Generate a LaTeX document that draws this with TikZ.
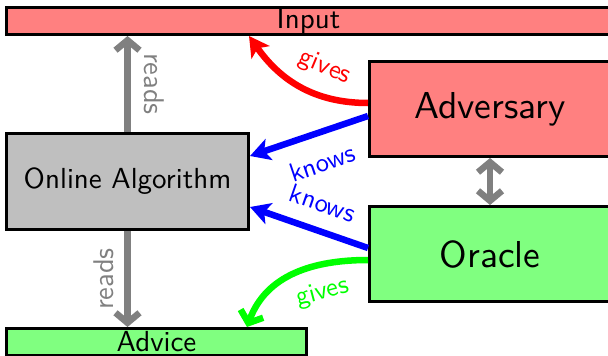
\documentclass[tikz,border=0pt]{standalone}
\usepackage{fontspec}
\setsansfont{lmsans10-regular}[Extension=.otf]
\usetikzlibrary{arrows.meta}
\definecolor{boxred}{RGB}{255,128,128}
\definecolor{boxgreen}{RGB}{128,255,128}
\definecolor{boxgray}{RGB}{191,191,191}
\definecolor{linkgray}{RGB}{128,128,128}
\definecolor{linkgreen}{RGB}{0,255,0}
\begin{document}
\begin{tikzpicture}[x=1pt,y=-1pt,
  box/.style={draw=black, line width=3pt, inner sep=0pt,
    font=\sffamily\fontsize{29}{34}\selectfont},
  bigbox/.style={box, font=\sffamily\fontsize{37.5}{44}\selectfont},
  lbl/.style={inner sep=2pt, font=\sffamily\fontsize{26.5}{31}\selectfont},
  readlbl/.style={font=\sffamily\fontsize{28.5}{34}\selectfont, text=linkgray},
  barb/.tip={Straight Barb[length=10pt,width=24pt]},
  pointy/.tip={Stealth[length=20pt,width=22pt,inset=5pt]},
  graylink/.style={draw=linkgray, line width=6.5pt},
  bluelink/.style={draw=blue, line width=6.5pt, -pointy},
]
\useasboundingbox (0,0) rectangle (608,356);
\clip (0,0) rectangle (608,356);

% boxes
\node[box, fill=boxred, minimum width=604pt, minimum height=27pt] (input) at (308.5,21) {Input};
\node[bigbox, fill=boxred, minimum width=241pt, minimum height=95pt] (adversary) at (490,109) {Adversary};
\node[bigbox, fill=boxgreen, minimum width=241pt, minimum height=95pt] (oracle) at (490,254) {Oracle};
\node[box, fill=boxgray, minimum width=242pt, minimum height=96pt] (online) at (127.5,181.5) {Online Algorithm};
\node[box, fill=boxgreen, minimum width=300pt, minimum height=27pt] (advice) at (156.5,342) {Advice};

% reading the input and the advice
\draw[graylink, -barb] (online.north) -- node[readlbl, midway, rotate=-90, anchor=south, inner sep=13pt] (readsin) {reads} (online.north |- input.south);
\draw[graylink, -barb] (online.south) -- node[readlbl, midway, rotate=90, anchor=south, inner sep=10pt] (readsadv) {reads} (online.south |- advice.north);
\draw[graylink, barb-barb] (adversary.south) -- (oracle.north);

% what the adversary and the oracle know and give
\draw[draw=red, line width=6.5pt, -pointy] ([yshift=6pt]adversary.west)
  .. controls +(-54,0) and +(31,44) ..
  node[lbl, text=red, pos=0.38, sloped, above=11pt] (givesin) {gives}
  ([xshift=-59.5pt]input.south);
\draw[bluelink] ([yshift=-7pt]adversary.west) --
  node[lbl, text=blue, pos=0.47, sloped, below=15pt] (knowsadv) {knows}
  ([yshift=25.5pt]online.east);
\draw[bluelink] ([yshift=6pt]oracle.west) --
  node[lbl, text=blue, pos=0.46, sloped, above=13pt] (knowsor) {knows}
  ([yshift=-25.5pt]online.east);
\draw[draw=linkgreen, line width=6.5pt, -barb] ([yshift=-6pt]oracle.west)
  .. controls +(-55,0) and +(19,-52) ..
  node[lbl, text=linkgreen, pos=0.34, sloped, below=11pt] (givesadv) {gives}
  ([xshift=90.5pt]advice.north);
\end{tikzpicture}
\end{document}
